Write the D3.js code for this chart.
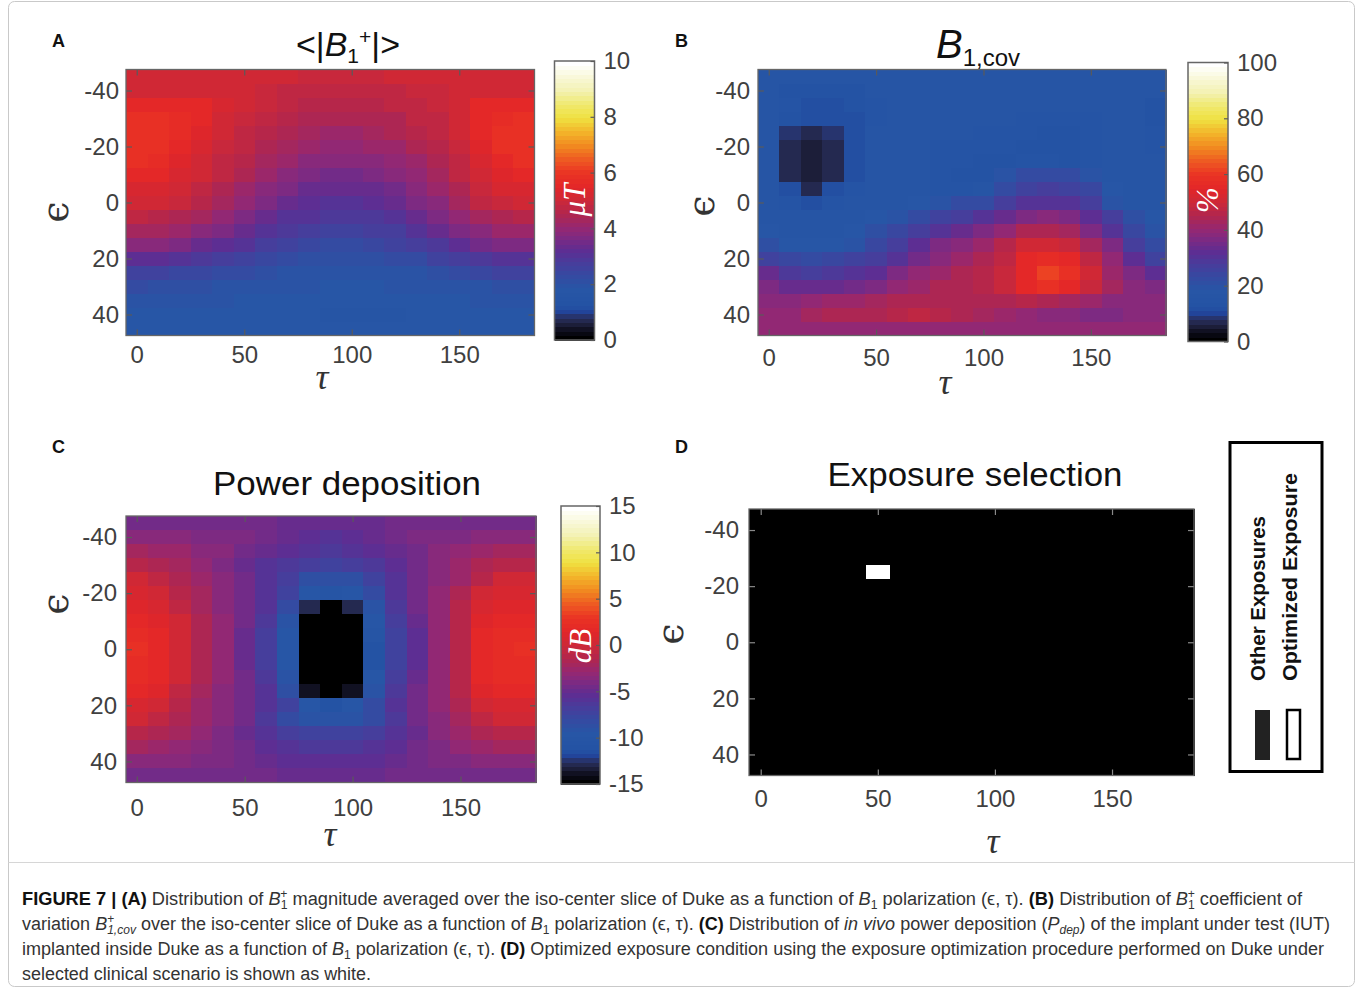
<!DOCTYPE html>
<html lang="en">
<head>
<meta charset="utf-8">
<title>Figure 7</title>
<script src="https://d3js.org/d3.v7.min.js"></script>
<style>
  body { margin: 0; background: #fff; }
</style>
</head>
<body>
<div id="figure"></div>
<script>
// grid of the polarization sweep
var tauValues = [0, 10, 20, 30, 40, 50, 60, 70, 80, 90, 100, 110, 120, 130, 140, 150, 160, 170, 180];
var epsValues = [-45, -40, -35, -30, -25, -20, -15, -10, -5, 0, 5, 10, 15, 20, 25, 30, 35, 40, 45];
var tauTicks = [0, 50, 100, 150];
var epsTicks = [-40, -20, 0, 20, 40];
var b1MeanTicks = [0, 2, 4, 6, 8, 10];
var b1CovTicks = [0, 20, 40, 60, 80, 100];
var powerTicks = [-15, -10, -5, 0, 5, 10, 15];

// (A) <|B1+|> in uT, rows = eps, cols = tau
var b1Mean = [
  [5.0,5.0,5.0,5.0,5.0,5.0,5.0,5.0,4.9,4.9,4.9,4.9,5.0,5.0,5.0,5.0,5.0,5.0,5.0],
  [5.1,5.1,5.1,5.1,5.1,5.0,4.9,4.8,4.7,4.7,4.7,4.7,4.8,4.9,4.9,5.1,5.1,5.1,5.1],
  [5.6,5.6,5.6,5.5,5.2,5.0,4.9,4.8,4.6,4.6,4.6,4.6,4.7,4.8,4.9,5.1,5.5,5.6,5.6],
  [5.8,5.8,5.7,5.5,5.1,4.9,4.8,4.6,4.5,4.4,4.4,4.5,4.5,4.7,4.8,5.0,5.5,5.7,5.8],
  [5.9,5.9,5.7,5.4,5.0,4.8,4.6,4.4,4.3,4.2,4.2,4.3,4.4,4.6,4.7,5.0,5.5,5.8,5.9],
  [5.9,5.8,5.6,5.2,4.9,4.7,4.5,4.3,4.1,4.0,4.0,4.1,4.2,4.4,4.6,4.9,5.4,5.8,5.9],
  [5.8,5.7,5.4,5.1,4.8,4.6,4.3,4.1,3.9,3.8,3.8,3.9,4.0,4.2,4.5,4.8,5.3,5.6,5.8],
  [5.6,5.5,5.3,5.0,4.7,4.4,4.1,3.8,3.6,3.5,3.5,3.6,3.8,4.0,4.3,4.7,5.1,5.4,5.6],
  [5.3,5.3,5.1,4.8,4.5,4.2,3.9,3.6,3.4,3.3,3.3,3.4,3.5,3.8,4.1,4.5,4.9,5.2,5.3],
  [5.0,5.0,4.9,4.6,4.3,4.0,3.7,3.4,3.2,3.1,3.1,3.2,3.3,3.6,3.9,4.3,4.7,4.9,5.0],
  [4.7,4.6,4.5,4.3,4.0,3.7,3.4,3.1,3.0,2.9,2.9,2.9,3.0,3.3,3.6,4.0,4.3,4.5,4.6],
  [4.3,4.3,4.1,3.9,3.6,3.3,3.1,2.9,2.7,2.6,2.6,2.7,2.8,3.0,3.3,3.6,3.9,4.1,4.2],
  [3.8,3.8,3.6,3.4,3.2,3.0,2.8,2.6,2.4,2.3,2.3,2.4,2.5,2.7,2.9,3.2,3.5,3.7,3.7],
  [3.2,3.2,3.1,2.9,2.7,2.6,2.4,2.3,2.1,2.1,2.1,2.1,2.2,2.3,2.5,2.7,2.9,3.1,3.1],
  [2.5,2.5,2.4,2.4,2.3,2.2,2.1,2.0,2.0,1.9,1.9,2.0,2.0,2.0,2.1,2.2,2.4,2.5,2.5],
  [2.2,2.1,2.1,2.1,2.0,2.0,1.9,1.9,1.9,1.8,1.8,1.8,1.9,1.9,1.9,2.0,2.0,2.1,2.1],
  [1.9,1.9,1.9,1.9,1.9,1.8,1.8,1.8,1.8,1.8,1.8,1.8,1.8,1.8,1.8,1.8,1.9,1.9,1.9],
  [1.8,1.8,1.8,1.8,1.8,1.8,1.8,1.8,1.8,1.7,1.7,1.7,1.7,1.8,1.8,1.8,1.8,1.8,1.8],
  [1.8,1.8,1.8,1.8,1.8,1.8,1.8,1.8,1.8,1.8,1.8,1.8,1.8,1.8,1.8,1.8,1.8,1.8,1.8]
];

// (B) B1,cov in %
var b1Cov = [
  [17,17,17,17,17,17,17,17,17,17,17,17,17,17,17,17,17,17,17],
  [17,14,14,14,14,16,17,17,17,17,17,17,17,17,17,17,17,17,16],
  [17,15,12,12,14,15,16,16,16,16,16,16,16,16,16,16,16,16,14],
  [16,13,11,11,12,15,16,16,16,16,16,16,15,15,15,15,16,16,14],
  [16,8.5,7.5,8.5,12,16,16,16,16,16,15,15,15,14,14,15,17,17,15],
  [16,7.5,6,7.5,12,16,16,16,15,15,15,15,14,14,14,15,17,17,15],
  [16,7.5,6,7.5,12,17,16,16,15,15,14,14,15,15,14,15,17,17,16],
  [16,7.5,6,7.5,12,17,16,16,15,14,14,20,22,22,23,20,16,17,16],
  [16,11,7.5,11,15,17,16,16,15,15,17,22,26,27,26,24,18,16,17],
  [17,15,11,15,17,17,16,18,20,22,22,27,30,31,30,27,20,17,17],
  [17,17,17,17,17,18,20,23,26,28,30,33,37,38,36,32,27,21,18],
  [18,17,17,17,18,21,24,28,31,33,36,40,44,45,43,37,31,24,20],
  [21,18,18,18,20,24,28,32,36,39,42,46,50,51,49,43,36,28,22],
  [26,24,23,24,25,27,31,35,39,41,44,48,55,57,56,48,40,32,25],
  [33,29,28,29,30,32,36,40,42,44,46,49,56,61,58,50,42,36,32],
  [37,34,33,34,35,37,40,42,44,45,46,49,55,58,56,49,43,39,36],
  [39,39,40,41,42,43,44,45,45,45,45,45,46,45,43,41,39,38,38],
  [40,40,43,44,44,45,46,48,46,45,43,41,40,39,38,37,37,38,39],
  [40,40,40,40,40,40,40,40,40,40,40,40,40,40,40,40,40,40,40]
];

// (C) power deposition in dB
var powerDep = [
  [-4.5,-4.5,-4.5,-4.5,-4.5,-4.5,-4.5,-4.8,-5,-5,-5,-4.8,-4.5,-4.5,-4.5,-4.5,-4.5,-4.5,-4.5],
  [-3.5,-3.5,-3.5,-4,-4,-4,-4.5,-5,-5.5,-5.8,-5.5,-5,-4.5,-4,-4,-4,-3.5,-3.5,-3.5],
  [-2,-2.5,-2.5,-3.5,-3.5,-4.5,-5,-5.5,-6,-6.5,-6,-5.5,-5,-4.5,-3.5,-3,-2.5,-2,-2],
  [-1,-1.5,-2,-3,-4,-5,-6,-6.5,-7,-7.5,-7,-6.5,-5.5,-4.5,-3.5,-2.5,-1.5,-1,-1],
  [0,-0.5,-1.5,-2.5,-3.5,-4.5,-6,-7,-8.5,-8.5,-8.5,-7.5,-6,-4.5,-3.5,-2.5,-1,0,0],
  [0.5,0.3,-1,-2,-3.5,-4.5,-6,-7.5,-9.5,-10,-9.5,-8,-6,-4.5,-3,-1.5,0,0.5,0.5],
  [1,0.5,-0.5,-2,-3.5,-4.5,-6,-8,-13,-15.5,-13,-9,-6.5,-4.5,-3,-1,0.5,1,1],
  [1.8,1.2,0,-1.5,-3,-4.5,-6.5,-9,-16,-16,-16,-9.5,-7,-5,-3,-1,1.2,1.8,1.8],
  [2.3,1.5,0,-1.5,-3,-5,-7,-9.5,-16,-16,-16,-10,-7.5,-5.5,-3,-1,1.5,2,2.3],
  [2.5,1.8,0.2,-1.5,-3,-5,-7,-9.5,-16,-16,-16,-11,-7.5,-5.5,-3,-1,1.8,2.3,2.5],
  [2.3,1.8,0.2,-1.5,-3,-5,-7,-9.5,-16,-16,-16,-11,-7.5,-5.5,-3,-1,1.8,2.3,2.3],
  [2,1.5,0,-1.5,-3,-4.5,-6.5,-9,-16,-16,-16,-9.5,-7,-5,-3,-1,1.5,2,2],
  [1.5,1,-0.5,-2,-3.5,-4.5,-6,-8.5,-14,-16,-14,-9,-6.5,-4.5,-3,-1,1,1.5,1.5],
  [0.8,0.3,-1,-2.5,-3.5,-4.5,-6,-7.5,-9.5,-11,-9.5,-8,-6,-4.5,-3,-1.5,0.3,0.8,0.8],
  [0,-0.5,-1.5,-2.5,-3.5,-4.5,-6.5,-8,-9,-9,-9,-8,-6.5,-4.5,-3.5,-2,-0.5,0,0],
  [-1,-1.5,-2,-3,-4,-5,-6,-7,-7.5,-7.5,-7.5,-7,-6,-5,-3.5,-2.5,-1.5,-1,-1],
  [-2,-2.5,-3,-3.5,-4,-4.5,-5.5,-6,-6.5,-6.5,-6.5,-6,-5.5,-4.5,-4,-3,-2.5,-2,-2],
  [-3.5,-3.5,-3.5,-4,-4,-4.5,-5,-5.5,-5.5,-5.5,-5.5,-5.5,-5,-4.5,-4,-4,-3.5,-3.5,-3.5],
  [-4.5,-4.5,-4.5,-4.5,-4.5,-4.5,-4.5,-4.8,-5,-5,-5,-4.8,-4.5,-4.5,-4.5,-4.5,-4.5,-4.5,-4.5]
];

// (D) optimized exposure
var optimumTau = 50;
var optimumEps = -25;
var legendLabels = ["Other Exposures", "Optimized Exposure"];

var W = 1357, H = 988;
var sans = "'Liberation Sans', Arial, Helvetica, sans-serif";
var serif = "'Liberation Serif', 'DejaVu Serif', serif";
var tickColor = "#5a5a5a", labelColor = "#404040";
var plainNum = function (d) { return String(d); };   // hyphen minus like matlab

var svg = d3.select("#figure").append("svg")
    .attr("width", W).attr("height", H)
    .style("display", "block");

// frame around figure + caption
svg.append("rect").attr("x", 8.5).attr("y", 1.5).attr("width", 1346).attr("height", 985)
    .attr("rx", 6).attr("fill", "none").attr("stroke", "#c9c9c9");
svg.append("line").attr("x1", 8.5).attr("x2", 1354.5).attr("y1", 862.5).attr("y2", 862.5)
    .attr("stroke", "#d6d6d6");

// colormap (black - navy - blue - purple - red - orange - yellow - white), 64 levels like matlab
var cmap = d3.scaleLinear()
    .domain([0, .03, .055, .075, .095, .115, .18, .24, .28, .32, .36, .40, .45, .50, .55, .60, .65, .70, .75, .80, .85, .90, 1])
    .range(["#000000", "#101020", "#212443", "#282f62", "#22449a", "#2352a4", "#2756a6", "#3a46a0", "#4a3b9a", "#5e2d92",
            "#7a2a84", "#942873", "#b0264f", "#cc2838", "#e32628", "#ea3424", "#ee5a22", "#f18a20", "#f3b42a",
            "#efe040", "#f0e96e", "#f3f1b2", "#ffffff"])
    .interpolate(d3.interpolateRgb);
var palette = d3.range(64).map(function (i) { return cmap(i / 63); });

function styleAxis(g, showText) {
    g.select(".domain").remove();
    g.attr("font-size", 24).attr("font-family", sans);
    g.selectAll("line").attr("stroke", tickColor).attr("stroke-width", 1.2);
    g.selectAll("text").attr("fill", labelColor);
    if (!showText) g.selectAll("text").remove();
}

function heatmap(p) {
    var g = svg.append("g");
    var x = d3.scaleLinear().domain([-5, 185]).range([p.x0, p.x1]);
    var y = d3.scaleLinear().domain([-47.5, 47.5]).range([p.y0, p.y1]);

    var cells = [];
    epsValues.forEach(function (e, i) {
        tauValues.forEach(function (t, j) {
            cells.push({ tau: t, eps: e, v: p.values ? p.values[i][j] : null });
        });
    });

    g.selectAll("rect.cell")
        .data(cells)
        .enter()
        .append("rect")
        .attr("class", "cell")
        .attr("x", function (d) { return x(d.tau - 5); })
        .attr("y", function (d) { return y(d.eps - 2.5); })
        .attr("width", x(10) - x(0) + 0.6)
        .attr("height", y(5) - y(0) + 0.6)
        .attr("fill", function (d) { return p.fill(d); })
        .attr("shape-rendering", "crispEdges");

    var tick = p.tickStroke || tickColor;
    g.append("g").attr("transform", "translate(0," + p.y1 + ")")
        .call(d3.axisBottom(x).tickValues(tauTicks).tickFormat(plainNum).tickSize(-6).tickPadding(p.xPad))
        .call(function (a) { styleAxis(a, true); a.selectAll("line").attr("stroke", tick); });
    g.append("g").attr("transform", "translate(0," + p.y0 + ")")
        .call(d3.axisTop(x).tickValues(tauTicks).tickSize(-6))
        .call(function (a) { styleAxis(a, false); a.selectAll("line").attr("stroke", tick); });
    g.append("g").attr("transform", "translate(" + p.x0 + ",0)")
        .call(d3.axisLeft(y).tickValues(epsTicks).tickFormat(plainNum).tickSize(-6).tickPadding(p.yPad))
        .call(function (a) { styleAxis(a, true); a.selectAll("line").attr("stroke", tick); });
    g.append("g").attr("transform", "translate(" + p.x1 + ",0)")
        .call(d3.axisRight(y).tickValues(epsTicks).tickSize(-6))
        .call(function (a) { styleAxis(a, false); a.selectAll("line").attr("stroke", tick); });

    g.append("rect")
        .attr("x", p.x0).attr("y", p.y0)
        .attr("width", p.x1 - p.x0).attr("height", p.y1 - p.y0)
        .attr("fill", "none").attr("stroke", "#666").attr("stroke-width", 1.3);

    // axis labels
    g.append("text")
        .attr("x", p.tauLabel[0]).attr("y", p.tauLabel[1])
        .attr("text-anchor", "middle")
        .attr("font-family", serif).attr("font-style", "italic")
        .attr("font-size", 36).attr("fill", "#333")
        .text("τ");
    g.append("text")
        .attr("transform", "translate(" + p.epsLabel[0] + "," + p.epsLabel[1] + ") rotate(-90)")
        .attr("text-anchor", "middle")
        .attr("font-family", "'DejaVu Serif', serif")
        .attr("font-size", 38).attr("fill", "#333")
        .text("ϵ");
    return g;
}

function colorbar(c) {
    var g = svg.append("g");
    var y = d3.scaleLinear().domain(c.domain).range([c.y1, c.y0]);
    var step = (c.domain[1] - c.domain[0]) / palette.length;
    g.selectAll("rect.band")
        .data(palette)
        .enter()
        .append("rect")
        .attr("x", c.x0)
        .attr("y", function (d, i) { return y(c.domain[0] + (i + 1) * step); })
        .attr("width", c.x1 - c.x0)
        .attr("height", y(c.domain[0]) - y(c.domain[0] + step) + 0.5)
        .attr("fill", function (d) { return d; })
        .attr("shape-rendering", "crispEdges");
    g.append("rect")
        .attr("x", c.x0).attr("y", c.y0)
        .attr("width", c.x1 - c.x0).attr("height", c.y1 - c.y0)
        .attr("fill", "none").attr("stroke", "#666").attr("stroke-width", 1.5);
    g.append("g").attr("transform", "translate(" + c.x1 + ",0)")
        .call(d3.axisRight(y).tickValues(c.ticks).tickFormat(plainNum).tickSize(-4).tickPadding(9))
        .call(function (a) { styleAxis(a, true); });
    g.append("text")
        .attr("transform", "translate(" + ((c.x0 + c.x1) / 2 + 10) + "," + c.labelY + ") rotate(-90)")
        .attr("text-anchor", "middle")
        .attr("font-family", serif).attr("font-style", "italic")
        .attr("font-size", 31).attr("fill", "#fff")
        .text(c.label);
}

function quantized(domain) {
    return d3.scaleQuantize().domain(domain).range(palette);
}

// panel letters
[["A", 52, 47], ["B", 675, 47], ["C", 52, 453], ["D", 675, 453]].forEach(function (l) {
    svg.append("text").attr("x", l[1]).attr("y", l[2])
        .attr("font-family", sans).attr("font-weight", "bold")
        .attr("font-size", 18).attr("fill", "#111").text(l[0]);
});

// ---- A ----
var colA = quantized([0, 10]);
heatmap({ x0: 126, x1: 534.5, y0: 69.5, y1: 335.5, values: b1Mean, xPad: 10, yPad: 7,
    fill: function (d) { return colA(d.v); }, tauLabel: [322, 389], epsLabel: [68, 212] });
colorbar({ x0: 554.5, x1: 594.5, y0: 61, y1: 340, domain: [0, 10], ticks: b1MeanTicks, label: "μT", labelY: 200 });
var tA = svg.append("text").attr("x", 348).attr("y", 56).attr("text-anchor", "middle")
    .attr("font-family", sans).attr("font-size", 34).attr("fill", "#111");
tA.append("tspan").text("<|");
tA.append("tspan").attr("font-style", "italic").text("B");
tA.append("tspan").attr("font-size", 21).attr("dy", 7).text("1");
tA.append("tspan").attr("font-size", 21).attr("dy", -19).text("+");
tA.append("tspan").attr("dy", 12).text("|>");

// ---- B ----
var colB = quantized([0, 100]);
heatmap({ x0: 758, x1: 1166, y0: 69.5, y1: 335.5, values: b1Cov, xPad: 13, yPad: 8,
    fill: function (d) { return colB(d.v); }, tauLabel: [945, 394], epsLabel: [714, 206] });
colorbar({ x0: 1188, x1: 1228, y0: 62.5, y1: 341.5, domain: [0, 100], ticks: b1CovTicks, label: "%", labelY: 200 });
var tB = svg.append("text").attr("x", 978).attr("y", 58).attr("text-anchor", "middle")
    .attr("font-family", sans).attr("font-size", 40).attr("fill", "#111");
tB.append("tspan").attr("font-style", "italic").text("B");
tB.append("tspan").attr("font-size", 24).attr("dy", 8).text("1,cov");

// ---- C ----
var colC = quantized([-15, 15]);
heatmap({ x0: 126, x1: 536, y0: 516, y1: 782.5, values: powerDep, xPad: 16, yPad: 9,
    fill: function (d) { return colC(d.v); }, tauLabel: [330, 846], epsLabel: [68, 604] });
colorbar({ x0: 561, x1: 600, y0: 506, y1: 784, domain: [-15, 15], ticks: powerTicks, label: "dB", labelY: 646 });
svg.append("text").attr("x", 347).attr("y", 495).attr("text-anchor", "middle")
    .attr("font-family", sans).attr("font-size", 33).attr("fill", "#111")
    .attr("textLength", 268).attr("lengthAdjust", "spacingAndGlyphs")
    .text("Power deposition");

// ---- D ----
heatmap({ x0: 749, x1: 1194, y0: 509, y1: 775.5, values: null, xPad: 14, yPad: 10, tickStroke: "#8a8a8a",
    fill: function (d) { return (d.tau === optimumTau && d.eps === optimumEps) ? "#ffffff" : "#000000"; },
    tauLabel: [993, 853], epsLabel: [683, 634] });
svg.append("text").attr("x", 975).attr("y", 486).attr("text-anchor", "middle")
    .attr("font-family", sans).attr("font-size", 33).attr("fill", "#111")
    .attr("textLength", 295).attr("lengthAdjust", "spacingAndGlyphs")
    .text("Exposure selection");

// legend for D
var lg = svg.append("g");
lg.append("rect").attr("x", 1230).attr("y", 442.5).attr("width", 92).attr("height", 329)
    .attr("fill", "#fff").attr("stroke", "#000").attr("stroke-width", 3);
lg.append("rect").attr("x", 1255).attr("y", 710).attr("width", 15).attr("height", 50).attr("fill", "#222");
lg.append("rect").attr("x", 1287).attr("y", 710).attr("width", 13).attr("height", 49)
    .attr("fill", "#fff").attr("stroke", "#000").attr("stroke-width", 2.5);
legendLabels.forEach(function (name, i) {
    lg.append("text")
        .attr("transform", "translate(" + (1265 + i * 32) + ",681) rotate(-90)")
        .attr("font-family", sans).attr("font-weight", "bold").attr("font-size", 20)
        .attr("fill", "#111")
        .attr("textLength", i === 0 ? 165 : 208).attr("lengthAdjust", "spacingAndGlyphs")
        .text(name);
});

// caption
var captionLines = [
  { y: 905, w: 1280, segs: [["FIGURE 7 | (A)", "b"], [" Distribution of "], ["B", "i"], ["1", "sub"], ["+", "sup back"],
      [" magnitude averaged over the iso-center slice of Duke as a function of "], ["B", "i"], ["1", "sub"],
      [" polarization (ϵ, τ). "], ["(B)", "b"], [" Distribution of "], ["B", "i"], ["1", "sub"], ["+", "sup back"],
      [" coefficient of"]] },
  { y: 930, w: 1308, segs: [["variation "], ["B", "i"], ["+", "sup"], ["1,cov", "sub i back"],
      [" over the iso-center slice of Duke as a function of "], ["B", "i"], ["1", "sub"], [" polarization (ϵ, τ). "],
      ["(C)", "b"], [" Distribution of "], ["in vivo", "i"], [" power deposition ("], ["P", "i"], ["dep", "sub i"],
      [") of the implant under test (IUT)"]] },
  { y: 955, w: 1302, segs: [["implanted inside Duke as a function of "], ["B", "i"], ["1", "sub"], [" polarization (ϵ, τ). "],
      ["(D)", "b"], [" Optimized exposure condition using the exposure optimization procedure performed on Duke under"]] },
  { y: 980, w: 349, segs: [["selected clinical scenario is shown as white."]] }
];

captionLines.forEach(function (line) {
    var t = svg.append("text")
        .attr("x", 22).attr("y", line.y)
        .attr("font-family", "'Liberation Sans Narrow', " + sans)
        .attr("font-size", 18).attr("fill", "#333")
        .attr("textLength", line.w).attr("lengthAdjust", "spacingAndGlyphs");
    var shift = 0;
    line.segs.forEach(function (s) {
        var f = (s[1] || "").split(" ");
        var sp = t.append("tspan").text(s[0]);
        var target = f.indexOf("sub") >= 0 ? 4 : (f.indexOf("sup") >= 0 ? -7 : 0);
        if (target !== shift) { sp.attr("dy", target - shift); shift = target; }
        if (target !== 0) sp.attr("font-size", 12);
        if (f.indexOf("back") >= 0) sp.attr("dx", -7);
        if (f.indexOf("b") >= 0) sp.attr("font-weight", "bold").attr("fill", "#111");
        if (f.indexOf("i") >= 0) sp.attr("font-style", "italic");
    });
});
</script>
</body>
</html>
